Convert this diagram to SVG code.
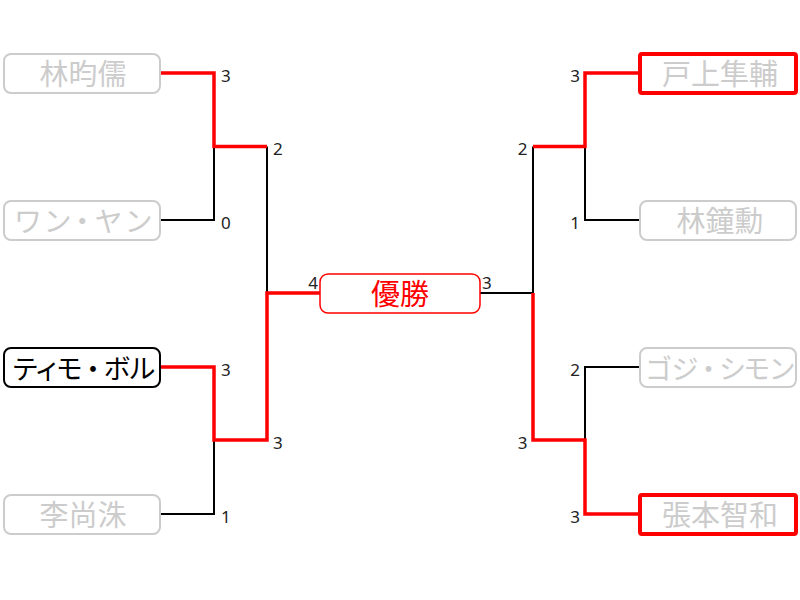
<svg xmlns="http://www.w3.org/2000/svg" width="800" height="600" viewBox="0 0 800 600">
<style>
.box{fill:#fff;stroke:#cccccc;stroke-width:2}
.win{fill:#fff;stroke:#ff0000;stroke-width:4}
.act{fill:#fff;stroke:#000;stroke-width:2}
.champ{fill:#fff;stroke:#ff0000;stroke-width:1.5}
.nm{font-family:"Noto Sans CJK JP","Noto Sans CJK SC",sans-serif;font-size:29px;text-anchor:middle;fill:#cccccc}
.kn{font-size:28px;font-feature-settings:"palt"}
.kt{font-size:27px;font-feature-settings:"palt"}
.blk{fill:#000}
.red{fill:#ff0000}
.sc{font-family:"Noto Sans","DejaVu Sans",sans-serif;font-size:17px;fill:#222}
.e{text-anchor:end}
.ln{fill:none;stroke:#000;stroke-width:2}
.rl{fill:none;stroke:#ff0000;stroke-width:3.5}
</style>
<rect width="800" height="600" fill="#fff"/>
<g id="connectors">
<path class="ln" d="M160,220 H214 V146.5"/>
<path class="ln" d="M160,514 H214 V440"/>
<path class="ln" d="M267,146.5 V293"/>
<path class="ln" d="M640,220 H585 V146.5"/>
<path class="ln" d="M640,367 H585 V440"/>
<path class="ln" d="M533,146.5 V293"/>
<path class="ln" d="M480,293 H533"/>
<path class="rl" d="M160,73 H214 V146.5 H267"/>
<path class="rl" d="M160,367 H214 V440 H267 V293 H320"/>
<path class="rl" d="M640,73 H585 V146.5 H533"/>
<path class="rl" d="M533,293 V440 H585 V514 H640"/>
</g>
<g id="scores">
<text class="sc" x="221" y="82">3</text>
<text class="sc" x="221" y="229">0</text>
<text class="sc" x="221" y="376">3</text>
<text class="sc" x="221" y="522.5">1</text>
<text class="sc" x="273" y="155">2</text>
<text class="sc" x="273" y="449">3</text>
<text class="sc e" x="318" y="288.5">4</text>
<text class="sc" x="482" y="288.5">3</text>
<text class="sc e" x="580" y="82">3</text>
<text class="sc e" x="580" y="228.5">1</text>
<text class="sc e" x="580" y="376">2</text>
<text class="sc e" x="580" y="522.5">3</text>
<text class="sc e" x="527.5" y="155">2</text>
<text class="sc e" x="527.5" y="449">3</text>
</g>
<g id="n1"><rect class="box" x="4" y="54" width="156" height="39" rx="7"/><text class="nm" x="83" y="85">林昀儒</text></g>
<g id="n2"><rect class="box" x="4" y="201" width="156" height="39" rx="7"/><text class="nm kn" x="83" y="231.5" textLength="136" lengthAdjust="spacing">ワン・ヤン</text></g>
<g id="n3"><rect class="act" x="4" y="348" width="156" height="39" rx="7"/><text class="nm kt blk" x="84" y="378.5">ティモ<tspan dx="4">・</tspan><tspan dx="4">ボル</tspan></text></g>
<g id="n4"><rect class="box" x="4" y="495" width="156" height="39" rx="7"/><text class="nm" x="83" y="526">李尚洙</text></g>
<g id="n5"><rect class="win" x="640" y="54" width="156" height="39" rx="2"/><text class="nm" x="720" y="85">戸上隼輔</text></g>
<g id="n6"><rect class="box" x="640" y="201" width="156" height="39" rx="7"/><text class="nm" x="720" y="232">林鐘勳</text></g>
<g id="n7"><rect class="box" x="640" y="348" width="156" height="39" rx="7"/><text class="nm kt" x="720" y="378.5">ゴジ<tspan dx="4">・</tspan><tspan dx="4">シモン</tspan></text></g>
<g id="n8"><rect class="win" x="640" y="495" width="156" height="39" rx="2"/><text class="nm" x="720" y="526">張本智和</text></g>
<g id="champion"><rect class="champ" x="320" y="274" width="160" height="39" rx="8"/><text class="nm red" x="400" y="305">優勝</text></g>
</svg>
